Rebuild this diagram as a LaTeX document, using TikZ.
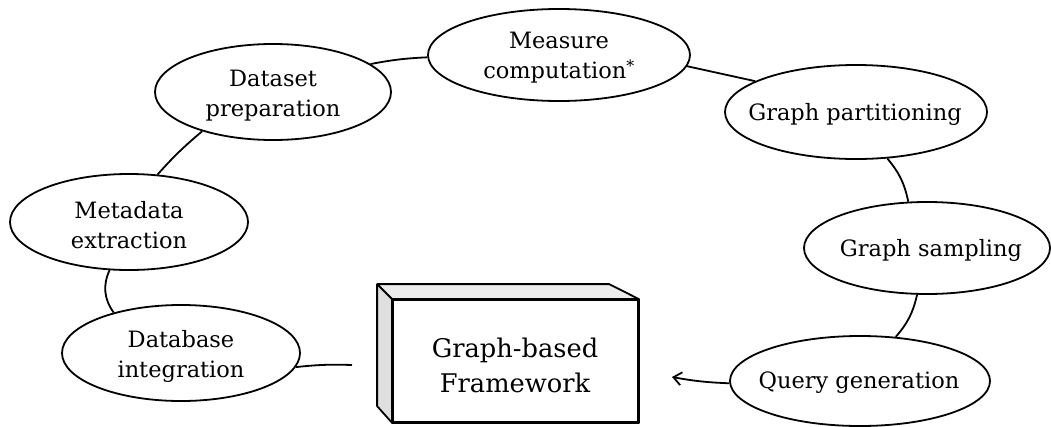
\documentclass[tikz,border=0pt]{standalone}
\usepackage{fontspec}
\setmainfont{DejaVu Serif}
\usetikzlibrary{shapes.geometric,arrows.meta}
\begin{document}
\begin{tikzpicture}[x=1pt,y=-1pt,
  bub/.style={draw, ellipse, line width=1.8pt, inner sep=0pt},
  txt/.style={align=center, font=\fontsize{22.5}{30}\selectfont, inner sep=0pt},
  link/.style={line width=1.8pt},
  boxface/.style={draw, line width=1.8pt, line join=round}]
\useasboundingbox (0,0) rectangle (1051,426);

% stages of the pipeline
\node[bub, minimum width=236pt, minimum height=96pt] (ds) at (273,92) {};
\node[txt] (dst) at (273,96) {Dataset\\preparation};
\node[bub, minimum width=262pt, minimum height=92pt] (ms) at (559,55) {};
\node[txt] (mst) at (559,58) {Measure\\computation\textsuperscript{*}};
\node[bub, minimum width=262pt, minimum height=94pt] (gp) at (856,112) {};
\node[txt] (gpt) at (855,114) {Graph partitioning};
\node[bub, minimum width=246pt, minimum height=92pt] (gs) at (927,248) {};
\node[txt] (gst) at (931,250) {Graph sampling};
\node[bub, minimum width=260pt, minimum height=90pt] (qg) at (860,381) {};
\node[txt] (qgt) at (859,383) {Query generation};
\node[bub, minimum width=238pt, minimum height=96pt] (md) at (129,222) {};
\node[txt] (mdt) at (129,225) {Metadata\\extraction};
\node[bub, minimum width=238pt, minimum height=96pt] (db) at (181,353) {};
\node[txt] (dbt) at (181,356) {Database\\integration};

% framework block drawn as a box with depth
\node[boxface, minimum width=245pt, minimum height=122pt, inner sep=0pt] (fw) at (515.5,361) {};
\fill[gray!15] (fw.north west) -- ++(-15,-15) -- ++(232,0) -- (fw.north east) -- cycle;
\fill[gray!25] (fw.north west) -- ++(-15,-15) -- ++(0,122) -- (fw.south west) -- cycle;
\draw[boxface] (fw.north west) -- ++(-15,-15) -- ++(232,0) -- (fw.north east);
\draw[boxface] (fw.north west) ++(-15,-15) -- ++(0,122) -- (fw.south west);
\draw[boxface] (fw.north west) rectangle (fw.south east);
\node[align=center, font=\fontsize{25.7}{35}\selectfont, inner sep=0pt] (fwt) at (515,365) {Graph-based\\Framework};

% loose ends near the block
\coordinate (inL) at (352,365);
\coordinate (inR) at (672,377);

% connectors
\draw[link] (ds.16) to[bend left=4] (ms.181);
\draw[link] (ms.-5) to (gp.163);
\draw[link] (gp.-56) to[bend left=14] (gs.112);
\draw[link] (gs.-102) to[bend left=14] (qg.51);
\draw[link, -{Straight Barb[length=8pt,width=13pt,line width=1.8pt]}] (qg.181) to[bend left=4] (inR);
\draw[link] (db.-7) to[bend left=4] (inL);
\draw[link] (md.-112) to[bend right=30] (db.149);
\draw[link] (ds.209) to[bend right=4] (md.59);
\end{tikzpicture}
\end{document}
